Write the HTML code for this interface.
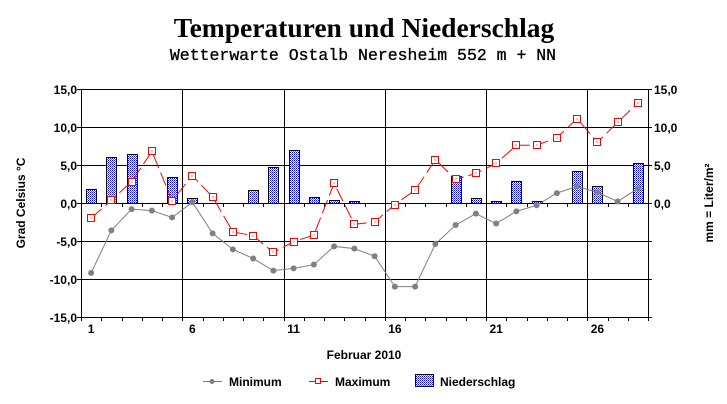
<!DOCTYPE html>
<html><head><meta charset="utf-8"><style>
html,body{margin:0;padding:0;background:#fff;}
svg{display:block;}
text{font-family:"Liberation Sans",sans-serif;font-weight:bold;fill:#000;}
</style></head><body>
<svg id="s" width="727" height="404" xmlns="http://www.w3.org/2000/svg" shape-rendering="crispEdges">
<defs>
<pattern id="dots" width="2" height="2" patternUnits="userSpaceOnUse">
<rect width="2" height="2" fill="#fff"/><rect width="1" height="1" fill="#0000ff"/><rect x="1" y="1" width="1" height="1" fill="#6060ff"/>
</pattern>
</defs>
<text x="364" y="37" text-anchor="middle" style="font-family:'Liberation Serif',serif;font-size:27.5px;">Temperaturen und Niederschlag</text>
<text x="363" y="60" text-anchor="middle" style="font-family:'Liberation Mono',monospace;font-size:16.5px;font-weight:normal;stroke:#000;stroke-width:0.3px;">Wetterwarte Ostalb Neresheim 552 m + NN</text>
<text x="0" y="0" transform="translate(25,203) rotate(-90)" text-anchor="middle" style="font-size:12px;">Grad Celsius °C</text>
<text x="0" y="0" transform="translate(713,203) rotate(-90)" text-anchor="middle" style="font-size:12px;">mm = Liter/m²</text>
<text x="364" y="359" text-anchor="middle" style="font-size:12px;">Februar 2010</text>
<g id="g"></g>
<line x1="203" y1="381.5" x2="222" y2="381.5" stroke="#808080"/><circle cx="212" cy="381.5" r="2.5" fill="#808080" shape-rendering="auto"/>
<text x="229" y="386" style="font-size:12px;">Minimum</text>
<line x1="309" y1="381.5" x2="328" y2="381.5" stroke="#f00"/><rect x="315.5" y="378.5" width="5" height="5" fill="#fff" stroke="#f00"/>
<text x="335" y="386" style="font-size:12px;">Maximum</text>
<rect x="415.5" y="374.5" width="18" height="12" fill="url(#dots)" stroke="#000"/>
<text x="440" y="386" style="font-size:12px;">Niederschlag</text>
</svg>
<script>
var g=document.getElementById('g'),h='';
var L=81,R=648,T=89,B=317,w=(R-L)/28;
function y(v){return 203-v*38/5;}
function yp(v){return Math.round(y(v))+0.5;}
function cx(i){return L+(i-0.5)*w;}
var mx=[-2,0.4,2.8,6.8,0.3,3.6,0.8,-3.8,-4.3,-6.5,-5.1,-4.2,2.6,-2.8,-2.5,-0.2,1.7,5.7,3.1,3.9,5.2,7.6,7.6,8.6,11.1,8.0,10.6,13.2];
var mn=[-9.2,-3.6,-0.8,-1.0,-1.9,0.1,-4.0,-6.1,-7.3,-8.9,-8.6,-8.1,-5.7,-6.0,-7.0,-11,-11,-5.4,-2.9,-1.4,-2.7,-1.1,-0.3,1.3,2.2,1.4,0.2,1.9];
var pr={1:1.8,2:6.0,3:6.4,5:3.4,6:0.7,9:1.7,10:4.8,11:7.0,12:0.8,13:0.4,14:0.3,19:3.6,20:0.7,21:0.3,22:2.9,23:0.3,25:4.2,26:2.2,28:5.3};
for(var v=-10;v<=10;v+=5){h+='<line x1="'+L+'" y1="'+yp(v)+'" x2="'+R+'" y2="'+yp(v)+'" stroke="#000"/>';}
for(var k=1;k<=5;k++){var x=Math.round(L+k*5*w)+0.5;h+='<line x1="'+x+'" y1="'+T+'" x2="'+x+'" y2="'+B+'" stroke="#000"/>';}
h+='<rect x="'+(L+0.5)+'" y="'+(T+0.5)+'" width="'+(R-L)+'" height="'+(B-T)+'" fill="none" stroke="#000"/>';
for(var i=0;i<=28;i++){var x=Math.round(L+i*w)+0.5;h+='<line x1="'+x+'" y1="203" x2="'+x+'" y2="207" stroke="#000"/><line x1="'+x+'" y1="'+B+'" x2="'+x+'" y2="'+(B+4)+'" stroke="#000"/>';}
for(var v=-15;v<=15;v+=5){var s=v.toFixed(1).replace('.',',');h+='<text x="77" y="'+(y(v)+5)+'" text-anchor="end" style="font-size:12px;">'+s+'</text>';h+='<line x1="'+(L-4)+'" y1="'+yp(v)+'" x2="'+L+'" y2="'+yp(v)+'" stroke="#000"/>';if(v>=0){h+='<text x="654" y="'+(y(v)+5)+'" style="font-size:12px;">'+s+'</text>';}h+='<line x1="'+R+'" y1="'+yp(v)+'" x2="'+(R+4)+'" y2="'+yp(v)+'" stroke="#000"/>';}
[1,6,11,16,21,26].forEach(function(d){h+='<text x="'+cx(d)+'" y="333" text-anchor="middle" style="font-size:12px;">'+d+'</text>';});
for(var d in pr){var x=cx(+d)-5,yy=y(pr[d]);h+='<rect x="'+(Math.round(x)+0.5)+'" y="'+(Math.round(yy)+0.5)+'" width="10" height="'+(203-Math.round(yy))+'" fill="url(#dots)" stroke="#000"/>';}
var p1='',p2='';
for(var i=0;i<28;i++){p1+=(i?'L':'M')+cx(i+1)+' '+y(mn[i]);p2+=(i?'L':'M')+cx(i+1)+' '+y(mx[i]);}
h+='<path d="'+p1+'" fill="none" stroke="#808080" shape-rendering="auto"/>';
for(var i=0;i<28;i++)h+='<circle cx="'+cx(i+1)+'" cy="'+y(mn[i])+'" r="3" fill="#808080" shape-rendering="auto"/>';
h+='<path d="'+p2+'" fill="none" stroke="#f00" stroke-dasharray="14,5" shape-rendering="auto"/>';
for(var i=0;i<28;i++){var rx=Math.round(cx(i+1))-3.5,ry=Math.round(y(mx[i]))-3.5;h+='<rect x="'+rx+'" y="'+ry+'" width="7" height="7" fill="#fff" stroke="#f00"/><rect x="'+(rx+3)+'" y="'+(ry+3)+'" width="1" height="1" fill="#f00"/>';}
g.innerHTML=h;
</script>
</body></html>
